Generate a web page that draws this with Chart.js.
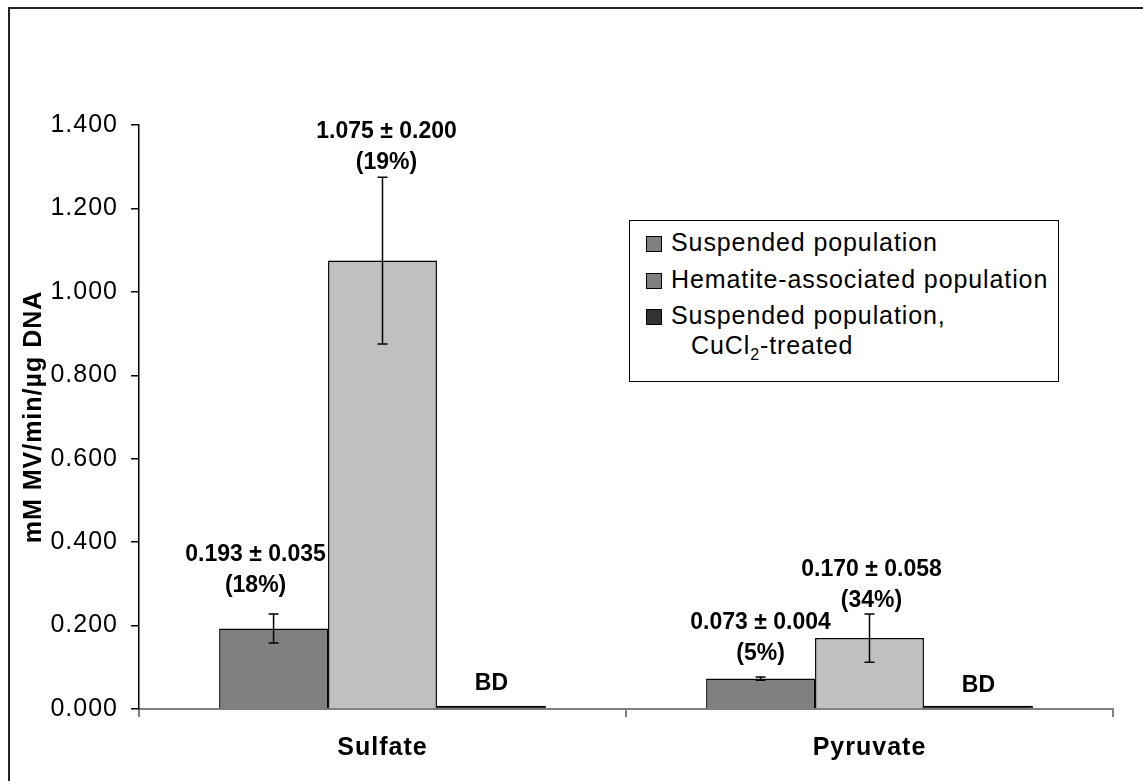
<!DOCTYPE html>
<html>
<head>
<meta charset="utf-8">
<script src="https://cdn.jsdelivr.net/npm/chart.js@4.4.1/dist/chart.umd.min.js"></script>
<style>
    body { margin: 0; background: #fff; font-family: "Liberation Sans", Arial, sans-serif; }
    #wrap { position: relative; width: 1143px; height: 781px; }
    #frame { position: absolute; left: 8px; top: 7px; right: 0; bottom: 0; border-top: 2px solid #222; border-left: 2px solid #222; pointer-events: none; }
    #legend { position: absolute; left: 629px; top: 220px; width: 428px; height: 160px; border: 1px solid #000; background: #fff; font-size: 25px; letter-spacing: 0.9px; color: #000; }
    .item { position: absolute; left: 16px; height: 30px; line-height: 30px; white-space: nowrap; }
    .sw { display: inline-block; width: 14px; height: 14px; border: 1px solid #000; margin-right: 9px; vertical-align: -1px; }
    .sub { font-size: 16px; vertical-align: -6px; line-height: 0; }
</style>
</head>
<body>
<div id="wrap">
    <canvas id="myChart" width="1143" height="781"></canvas>
    <div id="frame"></div>
    <div id="legend"></div>
</div>
<script>
/* data */
const categories = ['Sulfate', 'Pyruvate'];
const seriesNames = ['Suspended population', 'Hematite-associated population', 'Suspended population, CuCl2-treated'];
const suspended = [0.193, 0.073];
const hematite = [1.075, 0.170];
const cucl2 = [0.008, 0.008];
const suspendedErr = [0.035, 0.004];
const hematiteErr = [0.200, 0.058];
const cucl2Err = [0, 0];
const suspendedLabels = [['0.193 ± 0.035', '(18%)'], ['0.073 ± 0.004', '(5%)']];
const hematiteLabels = [['1.075 ± 0.200', '(19%)'], ['0.170 ± 0.058', '(34%)']];
const cucl2Labels = [['BD'], ['BD']];
const yTicks = [0, 0.2, 0.4, 0.6, 0.8, 1.0, 1.2, 1.4];

const colors = ['#808080', '#c0c0c0', '#333333'];
const legendSwatch = ['#808080', '#808080', '#333333'];
const errors = [suspendedErr, hematiteErr, cucl2Err];
const labels = [suspendedLabels, hematiteLabels, cucl2Labels];
// gap (px) from error bar top to last label line, and x nudge
const labelGap = [[28, 23], [14, 13], [22, 20]];
const labelNudge = [[-18, 0], [4, 2], [0, 0]];

/* legend */
const legend = document.getElementById('legend');
const legendRows = [
    { top: 6, html: seriesNames[0] },
    { top: 43, html: seriesNames[1] },
    { top: 79, html: 'Suspended population,' }
];
legendRows.forEach((r, i) => {
    const d = document.createElement('div');
    d.className = 'item';
    d.style.top = r.top + 'px';
    d.innerHTML = `<span class="sw" style="background:${legendSwatch[i]}"></span>${r.html}`;
    legend.appendChild(d);
});
const extra = document.createElement('div');
extra.className = 'item';
extra.style.top = '109px';
extra.style.left = '61px';
extra.innerHTML = 'CuCl<span class="sub">2</span>-treated';
legend.appendChild(extra);

/* text spacing for axis labels */
const spacing = {
    id: 'spacing',
    beforeDraw(chart) {
        chart.ctx.letterSpacing = '1px';
    }
};

/* value labels (under the bars) + error bars (over the bars) */
const valueLabels = {
    id: 'valueLabels',
    beforeDatasetsDraw(chart) {
        const ctx = chart.ctx;
        const y = chart.scales.y;
        ctx.save();
        ctx.letterSpacing = '0px';
        ctx.fillStyle = '#000';
        ctx.font = 'bold 23px "Liberation Sans", Arial, sans-serif';
        ctx.textAlign = 'center';
        ctx.textBaseline = 'middle';
        chart.data.datasets.forEach((ds, di) => {
            chart.getDatasetMeta(di).data.forEach((bar, i) => {
                const top = y.getPixelForValue(ds.data[i] + errors[di][i]);
                const lines = labels[di][i];
                const base = top - labelGap[di][i];
                const lx = bar.x + labelNudge[di][i];
                for (let k = 0; k < lines.length; k++) {
                    ctx.fillText(lines[k], lx, base - (lines.length - 1 - k) * 31);
                }
            });
        });
        ctx.restore();
    },
    afterDatasetsDraw(chart) {
        const ctx = chart.ctx;
        const y = chart.scales.y;
        ctx.save();
        ctx.strokeStyle = '#000';
        ctx.lineWidth = 1.5;
        chart.data.datasets.forEach((ds, di) => {
            chart.getDatasetMeta(di).data.forEach((bar, i) => {
                const v = ds.data[i];
                const e = errors[di][i];
                if (!e) return;
                const x = bar.x;
                const y1 = y.getPixelForValue(v + e);
                const y2 = y.getPixelForValue(v - e);
                ctx.beginPath();
                ctx.moveTo(x, y1); ctx.lineTo(x, y2);
                ctx.moveTo(x - 5, y1); ctx.lineTo(x + 5, y1);
                ctx.moveTo(x - 5, y2); ctx.lineTo(x + 5, y2);
                ctx.stroke();
            });
        });
        ctx.restore();
    }
};

const ctx = document.getElementById('myChart').getContext('2d');
new Chart(ctx, {
    type: 'bar',
    data: {
        labels: categories,
        datasets: [suspended, hematite, cucl2].map((d, i) => ({
            label: seriesNames[i],
            data: d,
            backgroundColor: colors[i],
            borderColor: '#000',
            borderWidth: 1.5,
            categoryPercentage: 0.671,
            barPercentage: 1
        }))
    },
    options: {
        responsive: false,
        animation: false,
        layout: { padding: { top: 125, right: 30, left: 0, bottom: 0 } },
        plugins: {
            legend: { display: false },
            tooltip: { enabled: false }
        },
        scales: {
            x: {
                afterFit: s => { s.height = 72; },
                border: { color: '#808080', width: 2 },
                grid: { offset: true, drawOnChartArea: false, drawTicks: true, tickLength: 8, color: '#808080', lineWidth: 2 },
                ticks: {
                    color: '#000',
                    padding: 16,
                    font: { family: '"Liberation Sans", Arial, sans-serif', size: 25, weight: 'bold' }
                }
            },
            y: {
                min: 0,
                max: 1.4,
                afterFit: s => { s.width = 139; },
                afterBuildTicks: s => { s.ticks = yTicks.map(v => ({ value: v })); },
                border: { color: '#000', width: 1.5 },
                grid: { drawOnChartArea: false, drawTicks: true, tickLength: 8, color: '#000', lineWidth: 1.5 },
                ticks: {
                    color: '#000',
                    padding: 13,
                    callback: v => v.toFixed(3),
                    font: { family: '"Liberation Sans", Arial, sans-serif', size: 25 }
                },
                title: {
                    display: true,
                    text: 'mM MV/min/µg DNA',
                    color: '#000',
                    padding: { top: 19, bottom: 0 },
                    font: { family: '"Liberation Sans", Arial, sans-serif', size: 25, weight: 'bold' }
                }
            }
        }
    },
    plugins: [spacing, valueLabels]
});
</script>
</body>
</html>
